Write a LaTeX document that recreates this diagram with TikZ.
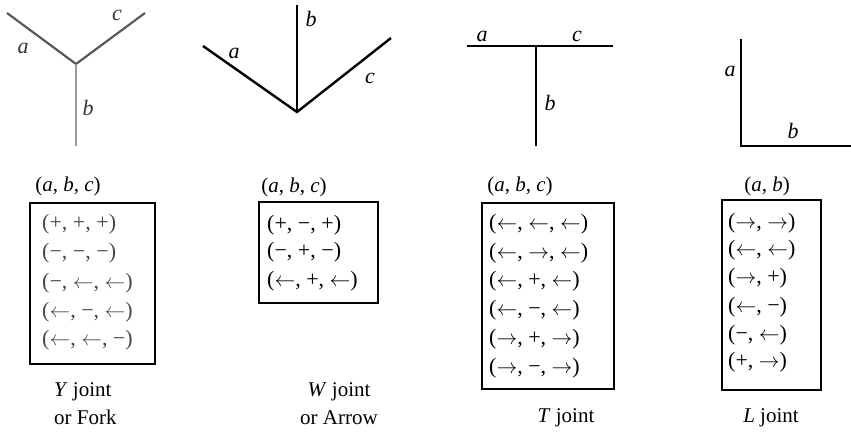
\documentclass[tikz,border=0pt]{standalone}
\usepackage{fontspec}
\setmainfont{Liberation Serif}
\begin{document}
\begin{tikzpicture}[x=1pt,y=-1pt,
  jedge/.style={line width=2.4pt,black},
  yedge/.style={line width=2.2pt,black!65},
  lbl/.style={font=\fontsize{22}{26}\selectfont\itshape,inner sep=0pt},
  hdr/.style={font=\fontsize{21}{25}\selectfont,inner sep=0pt},
  rowtxt/.style={font=\fontsize{22}{26}\selectfont,anchor=west,inner sep=0pt},
  grayrow/.style={rowtxt,text=black!72},
  tbox/.style={draw,line width=1.8pt,inner sep=0pt},
  captxt/.style={font=\fontsize{21}{28}\selectfont,inner sep=0pt,align=center}]
\useasboundingbox (0,0) rectangle (851,433);
% Y joint
\coordinate (yo) at (76,64);
\coordinate (ya) at (7,13);
\coordinate (yc) at (145,13);
\coordinate (yb) at (76,146);
\draw[yedge] (ya) -- (yo) -- (yc);
\draw[yedge,black!40] (yo) -- (yb);
\node[lbl,text=black!80] (la1) at (23,48) {a};
\node[lbl,text=black!80] (lc1) at (117,15) {c};
\node[lbl,text=black!80] (lb1) at (88,108) {b};
% W joint
\coordinate (wo) at (297,112);
\coordinate (wa) at (203,46);
\coordinate (wb) at (297,5);
\coordinate (wc) at (391,38);
\draw[jedge] (wa) -- (wo) -- (wc);
\draw[jedge] (wo) -- (wb);
\node[lbl] (la2) at (234,53) {a};
\node[lbl] (lb2) at (311,19) {b};
\node[lbl] (lc2) at (370,78) {c};
% T joint
\coordinate (ta) at (467,46);
\coordinate (tc) at (613,46);
\coordinate (to) at (536,46);
\coordinate (tb) at (536,146);
\draw[jedge] (ta) -- (tc);
\draw[jedge] (to) -- (tb);
\node[lbl] (la3) at (482,36) {a};
\node[lbl] (lc3) at (577,36) {c};
\node[lbl] (lb3) at (550,103) {b};
% L joint
\coordinate (lt) at (741,39);
\coordinate (lo) at (741,146);
\coordinate (lr) at (851,146);
\draw[jedge] (lt) -- (lo) -- (lr);
\node[lbl] (la4) at (730,71) {a};
\node[lbl] (lb4) at (793,131) {b};
% Y box
\node[hdr] (h1) at (68,186) {(\textit{a}, \textit{b}, \textit{c})};
\node[tbox,minimum width=125pt,minimum height=161pt] (box1) at (92.5,283.5) {};
\node[grayrow] (r11) at (42,224) {(+, +, +)};
\node[grayrow] (r12) at (42,253) {(−, −, −)};
\node[grayrow] (r13) at (42,283) {(−, $\leftarrow$, $\leftarrow$)};
\node[grayrow] (r14) at (42,312) {($\leftarrow$, −, $\leftarrow$)};
\node[grayrow] (r15) at (42,340) {($\leftarrow$, $\leftarrow$, −)};
\node[captxt,align=left,anchor=west] (c1) at (54,404) {\textit{Y} joint\\or Fork};
% W box
\node[hdr] (h2) at (294,187) {(\textit{a}, \textit{b}, \textit{c})};
\node[tbox,minimum width=119pt,minimum height=101pt] (box2) at (318.5,252.5) {};
\node[rowtxt] (r21) at (267,225) {(+, −, +)};
\node[rowtxt] (r22) at (267,252) {(−, +, −)};
\node[rowtxt] (r23) at (267,281) {($\leftarrow$, +, $\leftarrow$)};
\node[captxt] (c2) at (339,404) {\textit{W} joint\\or Arrow};
% T box
\node[hdr] (h3) at (520,186) {(\textit{a}, \textit{b}, \textit{c})};
\node[tbox,minimum width=132pt,minimum height=186pt] (box3) at (548,296) {};
\node[rowtxt] (r31) at (489,224) {($\leftarrow$, $\leftarrow$, $\leftarrow$)};
\node[rowtxt] (r32) at (489,253) {($\leftarrow$, $\rightarrow$, $\leftarrow$)};
\node[rowtxt] (r33) at (489,281) {($\leftarrow$, +, $\leftarrow$)};
\node[rowtxt] (r34) at (489,310) {($\leftarrow$, −, $\leftarrow$)};
\node[rowtxt] (r35) at (489,339) {($\rightarrow$, +, $\rightarrow$)};
\node[rowtxt] (r36) at (489,368) {($\rightarrow$, −, $\rightarrow$)};
\node[captxt] (c3) at (566,418) {\textit{T} joint};
% L box
\node[hdr] (h4) at (767,186) {(\textit{a}, \textit{b})};
\node[tbox,minimum width=99pt,minimum height=190pt] (box4) at (771.5,295) {};
\node[rowtxt] (r41) at (728,223) {($\rightarrow$, $\rightarrow$)};
\node[rowtxt] (r42) at (728,250) {($\leftarrow$, $\leftarrow$)};
\node[rowtxt] (r43) at (728,278) {($\rightarrow$, +)};
\node[rowtxt] (r44) at (728,307) {($\leftarrow$, −)};
\node[rowtxt] (r45) at (728,335) {(−, $\leftarrow$)};
\node[rowtxt] (r46) at (728,362) {(+, $\rightarrow$)};
\node[captxt] (c4) at (771,418) {\textit{L} joint};
\end{tikzpicture}
\end{document}
